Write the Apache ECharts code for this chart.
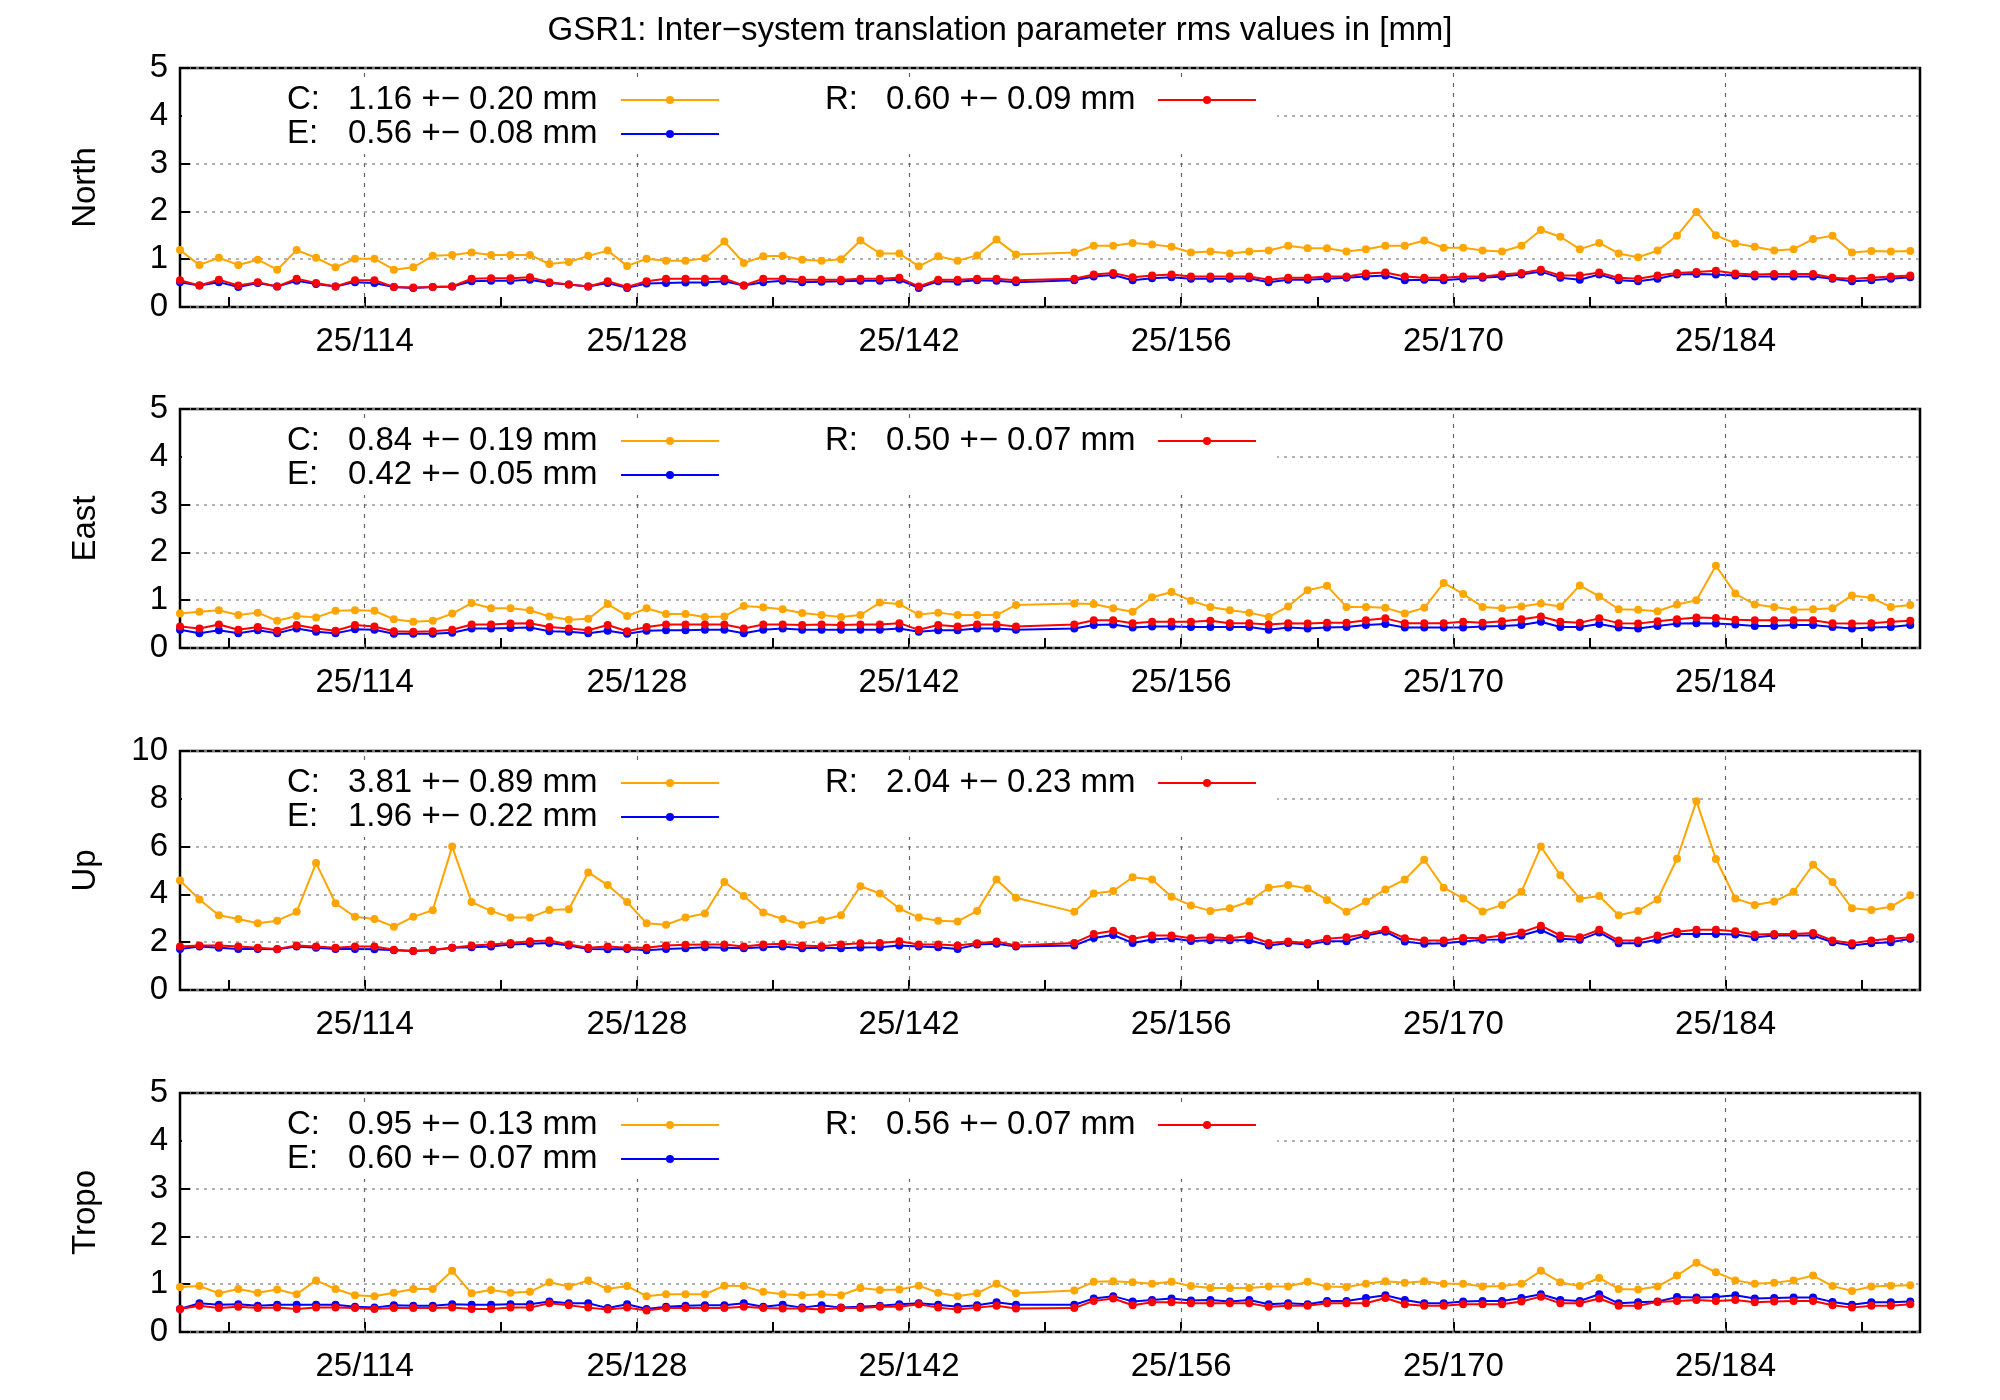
<!DOCTYPE html>
<html>
<head>
<meta charset="utf-8">
<script src="https://cdn.jsdelivr.net/npm/echarts@6/dist/echarts.min.js"></script>
<style>
  html, body { margin: 0; padding: 0; background: #fff; }
  #chart { width: 2000px; height: 1400px; }
</style>
</head>
<body>
<div id="chart"></div>
<script>
// day of year (noon), days 148/149 missing
var days = [104.5,105.5,106.5,107.5,108.5,109.5,110.5,111.5,112.5,113.5,114.5,115.5,116.5,117.5,118.5,119.5,120.5,121.5,122.5,123.5,
  124.5,125.5,126.5,127.5,128.5,129.5,130.5,131.5,132.5,133.5,134.5,135.5,136.5,137.5,138.5,139.5,140.5,141.5,142.5,143.5,
  144.5,145.5,146.5,147.5,150.5,151.5,152.5,153.5,154.5,155.5,156.5,157.5,158.5,159.5,160.5,161.5,162.5,163.5,164.5,165.5,
  166.5,167.5,168.5,169.5,170.5,171.5,172.5,173.5,174.5,175.5,176.5,177.5,178.5,179.5,180.5,181.5,182.5,183.5,184.5,185.5,
  186.5,187.5,188.5,189.5,190.5,191.5,192.5,193.5];

var labelDays = [114, 128, 142, 156, 170, 184];
var tickDays = [107, 114, 121, 128, 135, 142, 149, 156, 163, 170, 177, 184, 191];
var panelNames = ['North', 'East', 'Up', 'Tropo'];
var panelMax = [5, 5, 10, 5];
var panelStep = [1, 1, 2, 1];

var statsC = ['1.16 +\u2212 0.20 mm', '0.84 +\u2212 0.19 mm', '3.81 +\u2212 0.89 mm', '0.95 +\u2212 0.13 mm'];
var statsE = ['0.56 +\u2212 0.08 mm', '0.42 +\u2212 0.05 mm', '1.96 +\u2212 0.22 mm', '0.60 +\u2212 0.07 mm'];
var statsR = ['0.60 +\u2212 0.09 mm', '0.50 +\u2212 0.07 mm', '2.04 +\u2212 0.23 mm', '0.56 +\u2212 0.07 mm'];

var northC = [1.19,0.88,1.03,0.88,0.99,0.78,1.19,1.03,0.83,1.01,1.01,0.78,0.83,1.07,1.09,1.14,1.09,1.09,1.09,0.90,
  0.94,1.07,1.18,0.86,1.01,0.97,0.97,1.02,1.37,0.92,1.06,1.07,0.99,0.97,1.00,1.39,1.12,1.12,0.85,1.06,
  0.97,1.08,1.41,1.10,1.14,1.28,1.28,1.34,1.31,1.26,1.14,1.16,1.12,1.16,1.18,1.28,1.23,1.23,1.16,1.21,
  1.28,1.28,1.39,1.24,1.24,1.18,1.16,1.28,1.61,1.47,1.21,1.34,1.12,1.04,1.18,1.49,1.99,1.50,1.33,1.26,
  1.18,1.21,1.42,1.49,1.14,1.17,1.16,1.17];
var northE = [0.52,0.45,0.52,0.42,0.50,0.43,0.55,0.48,0.43,0.52,0.50,0.42,0.40,0.42,0.43,0.54,0.55,0.55,0.57,0.50,
  0.47,0.43,0.50,0.40,0.49,0.50,0.51,0.51,0.54,0.45,0.52,0.55,0.52,0.53,0.54,0.55,0.55,0.57,0.40,0.54,
  0.53,0.56,0.55,0.52,0.56,0.64,0.67,0.56,0.60,0.62,0.59,0.59,0.59,0.60,0.52,0.57,0.57,0.59,0.61,0.64,
  0.66,0.56,0.57,0.56,0.59,0.61,0.64,0.68,0.74,0.61,0.57,0.68,0.56,0.54,0.59,0.68,0.69,0.68,0.66,0.64,
  0.64,0.64,0.64,0.59,0.54,0.56,0.59,0.62];
var northR = [0.56,0.45,0.57,0.45,0.52,0.43,0.59,0.50,0.43,0.56,0.56,0.42,0.41,0.42,0.43,0.59,0.60,0.60,0.62,0.52,
  0.47,0.43,0.54,0.42,0.54,0.59,0.59,0.59,0.59,0.45,0.59,0.59,0.57,0.57,0.57,0.59,0.59,0.61,0.43,0.57,
  0.57,0.59,0.59,0.56,0.59,0.68,0.71,0.62,0.66,0.68,0.64,0.64,0.64,0.64,0.57,0.61,0.61,0.64,0.64,0.70,
  0.72,0.64,0.61,0.61,0.64,0.64,0.68,0.71,0.78,0.66,0.66,0.72,0.61,0.59,0.66,0.71,0.73,0.76,0.70,0.68,
  0.69,0.69,0.69,0.61,0.59,0.61,0.64,0.66];

var eastC = [0.72,0.76,0.79,0.69,0.74,0.57,0.67,0.64,0.78,0.79,0.78,0.60,0.55,0.57,0.72,0.94,0.83,0.83,0.79,0.66,
  0.59,0.61,0.92,0.67,0.83,0.71,0.71,0.65,0.66,0.88,0.85,0.81,0.73,0.69,0.65,0.69,0.95,0.92,0.70,0.74,
  0.69,0.69,0.69,0.90,0.93,0.92,0.83,0.76,1.06,1.17,0.99,0.86,0.79,0.74,0.65,0.87,1.21,1.30,0.86,0.86,
  0.84,0.72,0.84,1.36,1.13,0.86,0.83,0.87,0.93,0.87,1.31,1.08,0.81,0.80,0.77,0.91,1.00,1.72,1.14,0.91,
  0.86,0.80,0.81,0.83,1.10,1.05,0.86,0.90];
var eastE = [0.38,0.31,0.37,0.31,0.37,0.31,0.41,0.34,0.31,0.39,0.38,0.30,0.30,0.30,0.32,0.41,0.41,0.42,0.43,0.35,
  0.34,0.31,0.36,0.30,0.36,0.37,0.37,0.38,0.38,0.31,0.38,0.41,0.38,0.38,0.38,0.38,0.38,0.41,0.34,0.37,
  0.37,0.41,0.41,0.38,0.41,0.48,0.49,0.43,0.45,0.45,0.44,0.44,0.44,0.44,0.38,0.43,0.41,0.43,0.44,0.48,
  0.50,0.43,0.43,0.43,0.43,0.45,0.46,0.48,0.55,0.44,0.44,0.50,0.43,0.41,0.46,0.51,0.52,0.51,0.49,0.46,
  0.46,0.48,0.48,0.44,0.41,0.43,0.44,0.48];
var eastR = [0.45,0.41,0.49,0.38,0.44,0.36,0.48,0.41,0.36,0.48,0.45,0.35,0.34,0.35,0.38,0.49,0.49,0.51,0.52,0.44,
  0.41,0.37,0.48,0.35,0.44,0.49,0.49,0.49,0.49,0.41,0.49,0.49,0.48,0.49,0.48,0.49,0.49,0.52,0.38,0.48,
  0.45,0.49,0.49,0.45,0.49,0.58,0.58,0.52,0.55,0.55,0.55,0.57,0.52,0.52,0.49,0.52,0.51,0.53,0.53,0.58,
  0.62,0.52,0.52,0.52,0.55,0.53,0.56,0.60,0.66,0.55,0.53,0.62,0.52,0.51,0.56,0.60,0.64,0.63,0.59,0.58,
  0.58,0.58,0.58,0.52,0.51,0.52,0.55,0.57];

var upC = [4.58,3.79,3.13,2.97,2.79,2.90,3.27,5.31,3.63,3.06,2.97,2.65,3.06,3.34,6.00,3.68,3.31,3.03,3.03,3.35,
  3.38,4.92,4.39,3.68,2.79,2.73,3.03,3.20,4.52,3.93,3.24,2.97,2.73,2.92,3.13,4.34,4.04,3.41,3.03,2.90,
  2.87,3.31,4.62,3.86,3.27,4.04,4.14,4.72,4.62,3.90,3.54,3.31,3.42,3.70,4.28,4.39,4.25,3.77,3.27,3.70,
  4.21,4.62,5.45,4.28,3.83,3.28,3.56,4.11,6.00,4.80,3.82,3.93,3.13,3.31,3.79,5.49,7.90,5.48,3.83,3.56,
  3.70,4.11,5.24,4.52,3.42,3.35,3.48,3.96];
var upE = [1.72,1.82,1.77,1.72,1.72,1.70,1.82,1.77,1.72,1.72,1.70,1.66,1.63,1.66,1.77,1.79,1.82,1.90,1.93,1.97,
  1.86,1.72,1.70,1.72,1.66,1.72,1.75,1.79,1.77,1.75,1.79,1.82,1.75,1.77,1.75,1.78,1.79,1.86,1.82,1.79,
  1.72,1.90,1.93,1.82,1.86,2.18,2.30,1.97,2.11,2.17,2.05,2.08,2.08,2.08,1.86,1.97,1.90,2.04,2.04,2.28,
  2.44,2.03,1.93,1.96,2.03,2.10,2.11,2.28,2.51,2.14,2.10,2.41,1.96,1.96,2.10,2.34,2.34,2.34,2.32,2.21,
  2.28,2.28,2.28,2.00,1.86,1.96,2.00,2.14];
var upR = [1.82,1.86,1.86,1.82,1.77,1.72,1.86,1.82,1.77,1.82,1.82,1.68,1.63,1.68,1.77,1.86,1.90,1.97,2.04,2.07,
  1.90,1.77,1.82,1.77,1.77,1.86,1.89,1.90,1.90,1.82,1.90,1.93,1.86,1.83,1.90,1.96,1.97,2.04,1.90,1.90,
  1.86,1.96,2.03,1.86,1.97,2.34,2.48,2.14,2.28,2.28,2.17,2.21,2.17,2.26,1.97,2.03,1.97,2.14,2.21,2.34,
  2.52,2.17,2.07,2.07,2.18,2.18,2.28,2.41,2.69,2.28,2.21,2.52,2.07,2.07,2.28,2.44,2.52,2.52,2.46,2.32,
  2.34,2.34,2.39,2.07,1.96,2.07,2.14,2.21];

var tropoC = [0.94,0.96,0.81,0.90,0.82,0.89,0.79,1.08,0.90,0.77,0.75,0.82,0.90,0.90,1.28,0.81,0.88,0.82,0.84,1.04,
  0.95,1.08,0.90,0.96,0.75,0.79,0.79,0.79,0.97,0.96,0.84,0.79,0.77,0.79,0.77,0.92,0.88,0.89,0.97,0.82,
  0.75,0.81,1.01,0.81,0.87,1.05,1.06,1.04,1.01,1.05,0.96,0.92,0.92,0.92,0.95,0.95,1.05,0.95,0.94,1.01,
  1.06,1.03,1.06,1.01,1.01,0.95,0.96,1.01,1.28,1.04,0.96,1.13,0.90,0.89,0.95,1.18,1.45,1.25,1.08,1.01,
  1.03,1.08,1.18,0.96,0.86,0.95,0.97,0.98];
var tropoE = [0.48,0.60,0.57,0.58,0.55,0.57,0.57,0.57,0.57,0.53,0.51,0.56,0.55,0.55,0.58,0.57,0.57,0.58,0.58,0.64,
  0.60,0.60,0.50,0.58,0.48,0.53,0.55,0.56,0.56,0.60,0.53,0.57,0.51,0.56,0.51,0.53,0.55,0.58,0.60,0.57,
  0.53,0.56,0.62,0.57,0.57,0.70,0.75,0.64,0.67,0.70,0.66,0.67,0.64,0.67,0.58,0.60,0.58,0.65,0.65,0.71,
  0.77,0.67,0.60,0.60,0.64,0.65,0.65,0.71,0.79,0.67,0.65,0.79,0.60,0.62,0.64,0.73,0.72,0.73,0.77,0.70,
  0.71,0.72,0.72,0.63,0.57,0.62,0.62,0.64];
var tropoR = [0.48,0.55,0.50,0.53,0.50,0.51,0.48,0.51,0.51,0.50,0.48,0.50,0.50,0.50,0.51,0.48,0.48,0.51,0.51,0.60,
  0.56,0.51,0.47,0.51,0.45,0.50,0.50,0.50,0.50,0.53,0.50,0.49,0.49,0.47,0.50,0.50,0.53,0.53,0.58,0.51,
  0.47,0.51,0.55,0.49,0.50,0.65,0.70,0.56,0.62,0.62,0.60,0.60,0.60,0.60,0.53,0.55,0.55,0.60,0.60,0.60,
  0.71,0.58,0.55,0.55,0.58,0.58,0.58,0.64,0.74,0.60,0.60,0.70,0.55,0.55,0.63,0.65,0.67,0.65,0.67,0.62,
  0.64,0.65,0.65,0.56,0.51,0.55,0.55,0.58];

var valuesC = [northC, eastC, upC, tropoC];
var valuesE = [northE, eastE, upE, tropoE];
var valuesR = [northR, eastR, upR, tropoR];

var colC = '#ffa500', colE = '#0000ff', colR = '#ff0000';
var FONT = 'Liberation Sans';
var FS = 33;
var plotLeft = 180, plotRight = 1920;
var tops = [68, 409, 751, 1093];
var plotH = 239;

function pairs(vals) {
    return vals.map(function(v, i) { return [days[i], v]; });
}

var chart = echarts.init(document.getElementById('chart'));
var grids = [], xAxes = [], yAxes = [], series = [], graphics = [];

graphics.push({
    type: 'text', left: 'center', top: 14,
    style: { text: 'GSR1: Inter\u2212system translation parameter rms values in [mm]', font: FS + 'px ' + FONT, fill: '#000' }
});

for (var p = 0; p < 4; p++) {
    grids.push({ left: plotLeft, width: plotRight - plotLeft, top: tops[p], height: plotH,
        show: true, borderColor: '#000', borderWidth: 2.5, backgroundColor: 'transparent' });
    xAxes.push({
        type: 'value', gridIndex: p, min: 104.5, max: 194,
        axisLine: { show: false },
        axisTick: { show: true, inside: true, length: 10, customValues: tickDays, lineStyle: { color: '#000', width: 2 } },
        axisLabel: { customValues: labelDays, margin: 18, fontSize: FS, fontFamily: FONT, color: '#000',
            formatter: function(v) { return '25/' + v; } },
        splitLine: { show: false }
    });
    yAxes.push({
        type: 'value', gridIndex: p, min: 0, max: panelMax[p], interval: panelStep[p],
        name: panelNames[p], nameLocation: 'middle', nameGap: 78, nameRotate: 90,
        nameTextStyle: { fontSize: FS, fontFamily: FONT, color: '#000' },
        axisLine: { show: false },
        axisTick: { show: true, inside: true, length: 10, lineStyle: { color: '#000', width: 2 } },
        axisLabel: { fontSize: FS, fontFamily: FONT, color: '#000', margin: 12 },
        splitLine: { show: true, lineStyle: { color: '#999', type: [3, 5], width: 1.5 } }
    });

    var lists = [[valuesC[p], colC, 'C'], [valuesE[p], colE, 'E'], [valuesR[p], colR, 'R']];
    lists.forEach(function(l, k) {
        var s = {
            type: 'line', name: l[2] + p, xAxisIndex: p, yAxisIndex: p, data: pairs(l[0]),
            symbol: 'circle', symbolSize: 8, showSymbol: true, animation: false, z: 3 + k,
            lineStyle: { color: l[1], width: 2 }, itemStyle: { color: l[1] }
        };
        if (k === 0) {
            s.markLine = { silent: true, symbol: 'none', label: { show: false }, animation: false,
                lineStyle: { color: '#666', type: [4, 6], width: 1.2 },
                data: labelDays.map(function(d) { return { xAxis: d }; }) };
        }
        series.push(s);
    });

    // key box (hides grid behind it, as in the reference)
    var t = tops[p];
    graphics.push({ type: 'rect', z: 20, shape: { x: plotLeft + 2, y: t + 12, width: 1275 - plotLeft, height: 74 },
        style: { fill: '#fff' } });
    var rows = [['C:', statsC[p], colC, 287, 348, 621, t + 32],
                ['E:', statsE[p], colE, 287, 348, 621, t + 66],
                ['R:', statsR[p], colR, 825, 886, 1158, t + 32]];
    rows.forEach(function(r) {
        graphics.push({ type: 'text', z: 30, x: r[3], y: r[6], style: { text: r[0], font: FS + 'px ' + FONT, fill: '#000', textVerticalAlign: 'middle' } });
        graphics.push({ type: 'text', z: 30, x: r[4], y: r[6], style: { text: r[1], font: FS + 'px ' + FONT, fill: '#000', textVerticalAlign: 'middle' } });
        graphics.push({ type: 'line', z: 30, shape: { x1: r[5], y1: r[6], x2: r[5] + 98, y2: r[6] }, style: { stroke: r[2], lineWidth: 2 } });
        graphics.push({ type: 'circle', z: 30, shape: { cx: r[5] + 49, cy: r[6], r: 4 }, style: { fill: r[2] } });
    });
}

chart.setOption({
    backgroundColor: '#fff',
    animation: false,
    grid: grids,
    xAxis: xAxes,
    yAxis: yAxes,
    series: series,
    graphic: graphics
});
</script>
</body>
</html>
